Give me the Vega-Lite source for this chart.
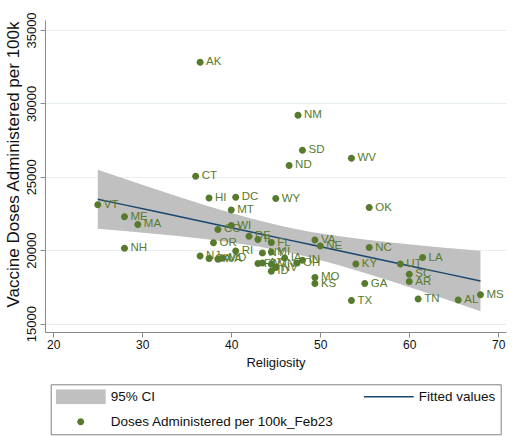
{
  "$schema": "https://vega.github.io/schema/vega-lite/v6.json",
  "width": 461,
  "height": 312,
  "autosize": {"type": "none"},
  "padding": {"left": 45, "top": 20, "right": 8, "bottom": 104},
  "config": {"font": "Liberation Sans", "view": {"stroke": null}},
  "datasets": {
    "ci": [
      {"religiosity": 25, "lo": 21465, "hi": 25485, "fit": 23475},
      {"religiosity": 28, "lo": 21306, "hi": 24866, "fit": 23086},
      {"religiosity": 31, "lo": 21139, "hi": 24255, "fit": 22697},
      {"religiosity": 34, "lo": 20960, "hi": 23658, "fit": 22309},
      {"religiosity": 37, "lo": 20760, "hi": 23080, "fit": 21920},
      {"religiosity": 40, "lo": 20529, "hi": 22533, "fit": 21531},
      {"religiosity": 43, "lo": 20250, "hi": 22034, "fit": 21142},
      {"religiosity": 46, "lo": 19905, "hi": 21603, "fit": 20754},
      {"religiosity": 49, "lo": 19483, "hi": 21247, "fit": 20365},
      {"religiosity": 52, "lo": 18992, "hi": 20960, "fit": 19976},
      {"religiosity": 55, "lo": 18450, "hi": 20724, "fit": 19587},
      {"religiosity": 58, "lo": 17876, "hi": 20520, "fit": 19198},
      {"religiosity": 61, "lo": 17281, "hi": 20339, "fit": 18810},
      {"religiosity": 64, "lo": 16671, "hi": 20171, "fit": 18421},
      {"religiosity": 68, "lo": 15845, "hi": 19959, "fit": 17902}
    ],
    "states": [
      {"state": "AK", "religiosity": 36.5, "doses": 32800, "series": "Doses Administered per 100k_Feb23"},
      {"state": "NM", "religiosity": 47.5, "doses": 29200, "series": "Doses Administered per 100k_Feb23"},
      {"state": "SD", "religiosity": 48.0, "doses": 26800, "series": "Doses Administered per 100k_Feb23"},
      {"state": "ND", "religiosity": 46.5, "doses": 25770, "series": "Doses Administered per 100k_Feb23"},
      {"state": "WV", "religiosity": 53.5, "doses": 26270, "series": "Doses Administered per 100k_Feb23"},
      {"state": "CT", "religiosity": 36.0, "doses": 25040, "series": "Doses Administered per 100k_Feb23"},
      {"state": "HI", "religiosity": 37.5, "doses": 23560, "series": "Doses Administered per 100k_Feb23"},
      {"state": "DC", "religiosity": 40.5, "doses": 23610, "series": "Doses Administered per 100k_Feb23"},
      {"state": "WY", "religiosity": 45.0, "doses": 23520, "series": "Doses Administered per 100k_Feb23"},
      {"state": "MT", "religiosity": 40.0, "doses": 22730, "series": "Doses Administered per 100k_Feb23"},
      {"state": "OK", "religiosity": 55.5, "doses": 22900, "series": "Doses Administered per 100k_Feb23"},
      {"state": "VT", "religiosity": 25.0, "doses": 23090, "series": "Doses Administered per 100k_Feb23"},
      {"state": "ME", "religiosity": 28.0, "doses": 22270, "series": "Doses Administered per 100k_Feb23"},
      {"state": "MA", "religiosity": 29.5, "doses": 21750, "series": "Doses Administered per 100k_Feb23"},
      {"state": "WI", "religiosity": 40.0, "doses": 21680, "series": "Doses Administered per 100k_Feb23"},
      {"state": "CO", "religiosity": 38.5, "doses": 21410, "series": "Doses Administered per 100k_Feb23"},
      {"state": "OR", "religiosity": 38.0, "doses": 20500, "series": "Doses Administered per 100k_Feb23"},
      {"state": "NH", "religiosity": 28.0, "doses": 20130, "series": "Doses Administered per 100k_Feb23"},
      {"state": "RI", "religiosity": 40.5, "doses": 19950, "series": "Doses Administered per 100k_Feb23"},
      {"state": "VA", "religiosity": 49.4, "doses": 20700, "series": "Doses Administered per 100k_Feb23"},
      {"state": "NE", "religiosity": 50.0, "doses": 20280, "series": "Doses Administered per 100k_Feb23"},
      {"state": "NC", "religiosity": 55.5, "doses": 20180, "series": "Doses Administered per 100k_Feb23"},
      {"state": "LA", "religiosity": 61.5, "doses": 19500, "series": "Doses Administered per 100k_Feb23"},
      {"state": "KY", "religiosity": 54.0, "doses": 19060, "series": "Doses Administered per 100k_Feb23"},
      {"state": "UT", "religiosity": 59.0, "doses": 19060, "series": "Doses Administered per 100k_Feb23"},
      {"state": "SC", "religiosity": 60.0, "doses": 18360, "series": "Doses Administered per 100k_Feb23"},
      {"state": "AR", "religiosity": 60.0, "doses": 17860, "series": "Doses Administered per 100k_Feb23"},
      {"state": "GA", "religiosity": 55.0, "doses": 17730, "series": "Doses Administered per 100k_Feb23"},
      {"state": "MO", "religiosity": 49.4, "doses": 18140, "series": "Doses Administered per 100k_Feb23"},
      {"state": "KS", "religiosity": 49.4, "doses": 17730, "series": "Doses Administered per 100k_Feb23"},
      {"state": "TX", "religiosity": 53.5, "doses": 16570, "series": "Doses Administered per 100k_Feb23"},
      {"state": "TN", "religiosity": 61.0, "doses": 16670, "series": "Doses Administered per 100k_Feb23"},
      {"state": "AL", "religiosity": 65.5, "doses": 16610, "series": "Doses Administered per 100k_Feb23"},
      {"state": "MS", "religiosity": 68.0, "doses": 16960, "series": "Doses Administered per 100k_Feb23"},
      {"state": "OH", "religiosity": 47.4, "doses": 19130, "series": "Doses Administered per 100k_Feb23"},
      {"state": "IN", "religiosity": 48.0, "doses": 19320, "series": "Doses Administered per 100k_Feb23"},
      {"state": "NJ", "religiosity": 36.5, "doses": 19610, "series": "Doses Administered per 100k_Feb23"},
      {"state": "CA", "religiosity": 37.5, "doses": 19430, "series": "Doses Administered per 100k_Feb23"},
      {"state": "WA", "religiosity": 38.5, "doses": 19380, "series": "Doses Administered per 100k_Feb23"},
      {"state": "MD", "religiosity": 39.0, "doses": 19470, "series": "Doses Administered per 100k_Feb23"},
      {"state": "DE", "religiosity": 42.0, "doses": 20950, "series": "Doses Administered per 100k_Feb23"},
      {"state": "IL", "religiosity": 43.0, "doses": 20730, "series": "Doses Administered per 100k_Feb23"},
      {"state": "FL", "religiosity": 44.5, "doses": 20520, "series": "Doses Administered per 100k_Feb23"},
      {"state": "NY", "religiosity": 43.5, "doses": 19810, "series": "Doses Administered per 100k_Feb23"},
      {"state": "MI", "religiosity": 44.5, "doses": 19880, "series": "Doses Administered per 100k_Feb23"},
      {"state": "IA", "religiosity": 46.0, "doses": 19470, "series": "Doses Administered per 100k_Feb23"},
      {"state": "PA", "religiosity": 43.0, "doses": 19090, "series": "Doses Administered per 100k_Feb23"},
      {"state": "AZ", "religiosity": 43.5, "doses": 19130, "series": "Doses Administered per 100k_Feb23"},
      {"state": "MN", "religiosity": 44.5, "doses": 19040, "series": "Doses Administered per 100k_Feb23"},
      {"state": "ID", "religiosity": 44.5, "doses": 18570, "series": "Doses Administered per 100k_Feb23"},
      {"state": "NV", "religiosity": 45.0, "doses": 18820, "series": "Doses Administered per 100k_Feb23"}
    ]
  },
  "layer": [
    {
      "data": {"name": "ci"},
      "mark": {"type": "area", "color": "#c0c0c0", "opacity": 1},
      "encoding": {
        "x": {
          "field": "religiosity", "type": "quantitative",
          "scale": {"domain": [19.07, 70.87], "nice": false, "zero": false},
          "axis": {
            "title": "Religiosity", "values": [20, 30, 40, 50, 60, 70], "grid": false,
            "domainColor": "#8a8a8a", "tickColor": "#8a8a8a", "tickSize": 5,
            "labelFontSize": 12, "labelColor": "#111111", "labelPadding": 2,
            "titleFontSize": 13, "titleFontWeight": "normal", "titleColor": "#111111", "titlePadding": 6
          }
        },
        "y": {
          "field": "hi", "type": "quantitative",
          "scale": {"domain": [14427, 35680], "nice": false, "zero": false},
          "axis": {
            "title": "Vaccine Doses Administered per 100k",
            "values": [15000, 20000, 25000, 30000, 35000], "format": "d",
            "grid": true, "gridColor": "#e6eef0", "gridWidth": 1,
            "domainColor": "#8a8a8a", "tickColor": "#8a8a8a", "tickSize": 5,
            "labelAngle": -90, "labelFontSize": 13, "labelColor": "#111111", "labelPadding": 2,
            "titleFontSize": 17, "titleFontWeight": "normal", "titleColor": "#111111", "titlePadding": 3,
            "titleY": 144
          }
        },
        "y2": {"field": "lo"}
      }
    },
    {
      "data": {"name": "ci"},
      "mark": {"type": "line", "color": "#1a476f", "strokeWidth": 1.5},
      "encoding": {
        "x": {"field": "religiosity", "type": "quantitative"},
        "y": {"field": "fit", "type": "quantitative"}
      }
    },
    {
      "data": {"name": "states"},
      "mark": {"type": "point", "filled": true, "opacity": 1, "size": 2500, "strokeWidth": 0},
      "encoding": {
        "x": {"field": "religiosity", "type": "quantitative"},
        "y": {"field": "doses", "type": "quantitative"},
        "color": {
          "field": "series", "type": "nominal",
          "scale": {"domain": ["95% CI", "Fitted values", "Doses Administered per 100k_Feb23"], "range": ["#c0c0c0", "#1a476f", "#587a2d"]},
          "legend": {
            "title": null, "orient": "none", "legendX": 5.7, "legendY": 364.3, "direction": "horizontal",
            "columns": 2, "columnPadding": 30, "rowPadding": 10, "symbolSize": 2500, "symbolStrokeWidth": 0,
            "symbolOpacity": 1, "labelFontSize": 13.5, "labelColor": "#111111", "labelOffset": 5, "labelLimit": 400,
            "padding": 5, "strokeColor": "#808080", "clipHeight": 15
          }
        },
        "shape": {
          "field": "series", "type": "nominal",
          "scale": {"domain": ["95% CI", "Fitted values", "Doses Administered per 100k_Feb23"], "range": ["M-1,-0.3H1V0.3H-1Z", "M-1,-0.03H1V0.03H-1Z", "M-0.14,0A0.14,0.14 0 1,0 0.14,0A0.14,0.14 0 1,0 -0.14,0Z"]},
          "legend": {
            "title": null, "orient": "none", "legendX": 5.7, "legendY": 364.3, "direction": "horizontal",
            "columns": 2, "columnPadding": 30, "rowPadding": 10, "symbolSize": 2500, "symbolStrokeWidth": 0,
            "symbolOpacity": 1, "labelFontSize": 13.5, "labelColor": "#111111", "labelOffset": 5, "labelLimit": 400,
            "padding": 5, "strokeColor": "#808080", "clipHeight": 15
          }
        }
      }
    },
    {
      "data": {"name": "states"},
      "mark": {"type": "text", "align": "left", "baseline": "middle", "dx": 6, "fontSize": 11.5, "color": "#587a2d"},
      "encoding": {
        "x": {"field": "religiosity", "type": "quantitative"},
        "y": {"field": "doses", "type": "quantitative"},
        "text": {"field": "state"}
      }
    }
  ]
}
